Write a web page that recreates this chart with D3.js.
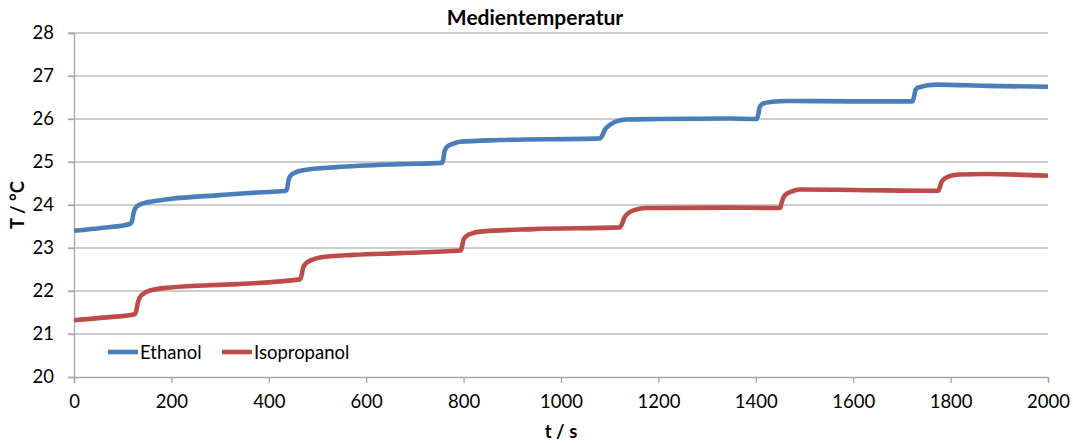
<!DOCTYPE html>
<html>
<head>
<meta charset="utf-8">
<script src="https://cdn.jsdelivr.net/npm/d3@7"></script>
<style>
  html, body { margin: 0; padding: 0; background: #fff; }
  svg { display: block; font-family: Lato, "Open Sans", sans-serif; }
</style>
</head>
<body>
<svg id="chart" width="1073" height="443"></svg>
<script>
// Medium temperature over time for two fluids (stepwise heating)
const ethanolTime = [0, 60, 115, 119, 122, 126, 132, 145, 160, 197, 300, 360, 435, 438, 441, 446, 455, 471, 539, 669,
  755, 758, 761, 766, 780, 793, 875, 1080, 1084, 1090, 1100, 1115, 1135, 1200, 1347, 1402, 1405, 1408, 1415, 1435,
  1463, 1600, 1722, 1725, 1728, 1735, 1771, 1874, 2000];
const ethanolTemp = [23.40, 23.47, 23.56, 23.62, 23.80, 23.93, 23.99, 24.05, 24.08, 24.14, 24.23, 24.28, 24.33, 24.40,
  24.60, 24.70, 24.76, 24.81, 24.88, 24.95, 24.98, 25.05, 25.25, 25.35, 25.43, 25.47, 25.51, 25.55, 25.60, 25.75,
  25.86, 25.95, 25.99, 26.00, 26.01, 26.00, 26.10, 26.28, 26.36, 26.40, 26.42, 26.41, 26.41, 26.52, 26.68, 26.74,
  26.80, 26.77, 26.75];

const isoTime = [0, 60, 125, 128, 131, 135, 142, 156, 197, 334, 464, 467, 470, 476, 490, 505, 574, 669, 794, 797,
  800, 806, 820, 834, 943, 1121, 1125, 1130, 1137, 1150, 1176, 1347, 1450, 1453, 1457, 1465, 1478, 1491, 1600,
  1775, 1778, 1782, 1790, 1805, 1819, 1874, 2000];
const isoTemp = [21.32, 21.38, 21.46, 21.55, 21.72, 21.85, 21.93, 22.01, 22.08, 22.16, 22.27, 22.35, 22.52, 22.64,
  22.73, 22.78, 22.84, 22.88, 22.94, 23.05, 23.20, 23.28, 23.35, 23.38, 23.44, 23.48, 23.55, 23.70, 23.80, 23.88,
  23.93, 23.94, 23.93, 24.05, 24.18, 24.27, 24.33, 24.36, 24.35, 24.33, 24.42, 24.55, 24.63, 24.69, 24.71, 24.72,
  24.68];

const seriesNames = ["Ethanol", "Isopropanol"];
const seriesColors = ["#4a7ebb", "#be4b48"];
const xTicks = [0, 200, 400, 600, 800, 1000, 1200, 1400, 1600, 1800, 2000];
const yTicks = [20, 21, 22, 23, 24, 25, 26, 27, 28];
const titleText = "Medientemperatur";
const xLabel = "t / s";
const yLabel = "T / °C";

const svg = d3.select("#chart");
const margin = { left: 74, right: 25, top: 33, bottom: 66 };
const W = 1073, H = 443;
const labelSize = 18.5;

const x = d3.scaleLinear().domain([0, 2000]).range([margin.left, W - margin.right]);
const y = d3.scaleLinear().domain([20, 28]).range([H - margin.bottom, margin.top]);

const gridColor = "#bdbdbd";
const axisColor = "#a6a6a6";

// horizontal gridlines
svg.append("g")
  .selectAll("line")
  .data(yTicks.filter(d => d !== 20))
  .join("line")
  .attr("x1", x(0) - 6).attr("x2", x(2000))
  .attr("y1", d => y(d)).attr("y2", d => y(d))
  .attr("stroke", gridColor).attr("stroke-width", 1.3);

// y axis
const yAxis = svg.append("g")
  .attr("transform", `translate(${x(0)},0)`)
  .call(d3.axisLeft(y).tickValues(yTicks).tickSize(6).tickPadding(14).tickFormat(d3.format("d")));
yAxis.select(".domain").attr("stroke", axisColor).attr("stroke-width", 1.3);
yAxis.selectAll(".tick line").attr("stroke", axisColor).attr("stroke-width", 1.3);
yAxis.selectAll(".tick text").attr("font-size", labelSize).attr("fill", "#000")
  .attr("font-family", "Lato, sans-serif");

// x axis
const xAxis = svg.append("g")
  .attr("transform", `translate(0,${y(20)})`)
  .call(d3.axisBottom(x).tickValues(xTicks).tickSize(6).tickPadding(12).tickFormat(d3.format("d")));
xAxis.select(".domain").attr("stroke", axisColor).attr("stroke-width", 1.3);
xAxis.selectAll(".tick line").attr("stroke", axisColor).attr("stroke-width", 1.3);
xAxis.selectAll(".tick text").attr("font-size", labelSize).attr("fill", "#000")
  .attr("font-family", "Lato, sans-serif");

// data lines
const line = d3.line()
  .x(d => x(d[0]))
  .y(d => y(d[1]))
  .curve(d3.curveMonotoneX);

const series = [
  d3.zip(ethanolTime, ethanolTemp),
  d3.zip(isoTime, isoTemp)
];

svg.append("g")
  .selectAll("path")
  .data(series)
  .join("path")
  .attr("d", line)
  .attr("fill", "none")
  .attr("stroke", (d, i) => seriesColors[i])
  .attr("stroke-width", 4.6)
  .attr("stroke-linejoin", "round");

// title
svg.append("text")
  .attr("x", 535).attr("y", 25)
  .attr("text-anchor", "middle")
  .attr("font-size", 21).attr("font-weight", "bold")
  .text(titleText);

// axis titles
svg.append("text")
  .attr("x", (x(0) + x(2000)) / 2).attr("y", 438)
  .attr("text-anchor", "middle")
  .attr("font-size", labelSize).attr("font-weight", "bold")
  .text(xLabel);

svg.append("text")
  .attr("transform", `translate(24,${(y(20) + y(28)) / 2}) rotate(-90)`)
  .attr("text-anchor", "middle")
  .attr("font-size", labelSize).attr("font-weight", "bold")
  .text(yLabel);

// legend
const legendY = 352;
const legendItems = [
  { name: seriesNames[0], color: seriesColors[0], x0: 108 },
  { name: seriesNames[1], color: seriesColors[1], x0: 222 }
];
const lg = svg.append("g");
lg.selectAll("line")
  .data(legendItems)
  .join("line")
  .attr("x1", d => d.x0).attr("x2", d => d.x0 + 30)
  .attr("y1", legendY).attr("y2", legendY)
  .attr("stroke", d => d.color).attr("stroke-width", 4.6);
lg.selectAll("text")
  .data(legendItems)
  .join("text")
  .attr("x", d => d.x0 + 32).attr("y", legendY + 6.5)
  .attr("font-size", labelSize)
  .text(d => d.name);
</script>
</body>
</html>
